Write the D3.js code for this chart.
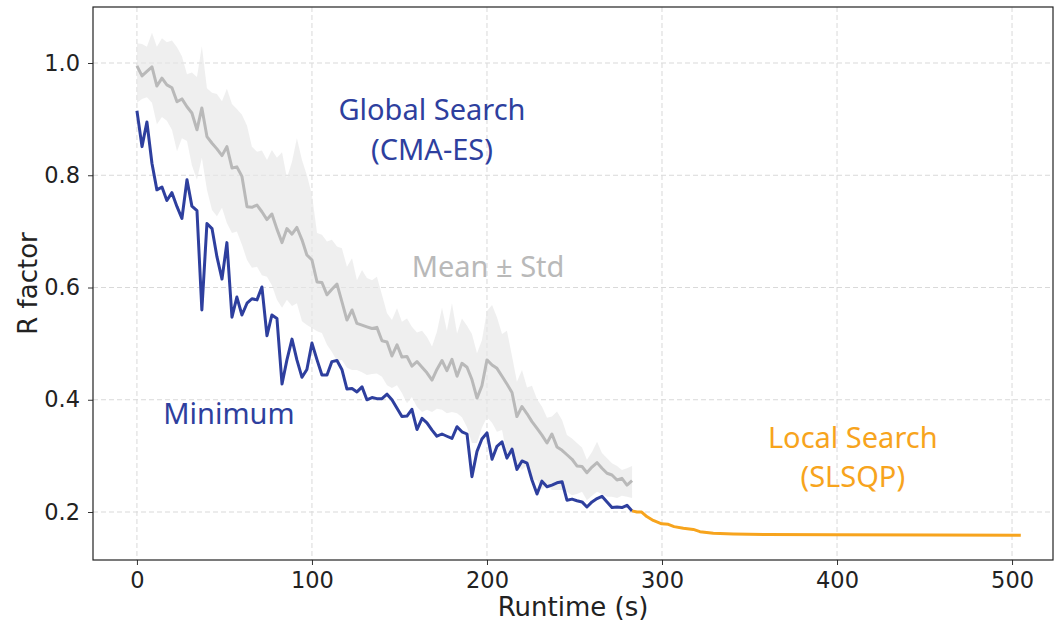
<!DOCTYPE html>
<html>
<head>
<meta charset="utf-8">
<script src="https://cdn.jsdelivr.net/npm/d3@7"></script>
<style>
  body { margin: 0; background: #fff; }
  svg { display: block; }
  .tick text { font-family: "DejaVu Sans", sans-serif; font-size: 22.5px; fill: #222; }
  .grid line { stroke: #d9d9d9; stroke-dasharray: 5,3; stroke-width: 1; }
  .note { font-family: "Noto Sans", sans-serif; font-size: 29px; text-anchor: middle; }
</style>
</head>
<body>
<svg id="chart" width="1054" height="626"></svg>
<script>
// runtime (s) of each CMA-ES generation
const runtime = [0, 2.9, 5.7, 8.6, 11.4, 14.3, 17.1, 20.0, 22.9, 25.7, 28.6, 31.4, 34.3, 37.1, 40.0, 42.9, 45.7, 48.6, 51.4, 54.3,
  57.1, 60.0, 62.9, 65.7, 68.6, 71.4, 74.3, 77.1, 80.0, 82.9, 85.7, 88.6, 91.4, 94.3, 97.1, 100.0, 102.9, 105.7, 108.6, 111.4,
  114.3, 117.1, 120.0, 122.9, 125.7, 128.6, 131.4, 134.3, 137.1, 140.0, 142.9, 145.7, 148.6, 151.4, 154.3, 157.1, 160.0, 162.9, 165.7, 168.6,
  171.4, 174.3, 177.1, 180.0, 182.9, 185.7, 188.6, 191.4, 194.3, 197.1, 200.0, 202.9, 205.7, 208.6, 211.4, 214.3, 217.1, 220.0, 222.9, 225.7,
  228.6, 231.4, 234.3, 237.1, 240.0, 242.9, 245.7, 248.6, 251.4, 254.3, 257.1, 260.0, 262.9, 265.7, 268.6, 271.4, 274.3, 277.1, 280.0, 282.9];

const minimum = [0.915, 0.851, 0.895, 0.821, 0.774, 0.779, 0.755, 0.769, 0.744, 0.723, 0.792, 0.745, 0.737, 0.560, 0.714, 0.705, 0.655, 0.615, 0.680, 0.547,
  0.583, 0.551, 0.572, 0.580, 0.578, 0.601, 0.514, 0.551, 0.545, 0.428, 0.471, 0.508, 0.471, 0.440, 0.454, 0.501, 0.471, 0.444, 0.444, 0.468,
  0.470, 0.454, 0.419, 0.420, 0.414, 0.423, 0.400, 0.404, 0.402, 0.402, 0.410, 0.400, 0.385, 0.370, 0.371, 0.383, 0.347, 0.367, 0.359, 0.346,
  0.335, 0.339, 0.335, 0.331, 0.352, 0.343, 0.339, 0.263, 0.308, 0.330, 0.341, 0.294, 0.317, 0.325, 0.296, 0.312, 0.276, 0.291, 0.287, 0.257,
  0.232, 0.255, 0.245, 0.248, 0.252, 0.254, 0.221, 0.223, 0.220, 0.218, 0.209, 0.218, 0.224, 0.228, 0.218, 0.208, 0.209, 0.208, 0.212, 0.202];

const mean = [0.995, 0.977, 0.985, 0.993, 0.959, 0.973, 0.961, 0.956, 0.931, 0.936, 0.922, 0.911, 0.881, 0.920, 0.869, 0.857, 0.847, 0.835, 0.851, 0.813,
  0.815, 0.798, 0.744, 0.743, 0.747, 0.735, 0.721, 0.731, 0.704, 0.680, 0.705, 0.695, 0.707, 0.685, 0.658, 0.649, 0.610, 0.609, 0.587, 0.597,
  0.606, 0.575, 0.542, 0.560, 0.536, 0.533, 0.530, 0.527, 0.529, 0.505, 0.503, 0.478, 0.498, 0.476, 0.477, 0.460, 0.468, 0.458, 0.448, 0.435,
  0.454, 0.470, 0.452, 0.472, 0.442, 0.465, 0.458, 0.436, 0.403, 0.425, 0.471, 0.462, 0.456, 0.442, 0.428, 0.413, 0.370, 0.388, 0.375, 0.361,
  0.349, 0.337, 0.323, 0.339, 0.316, 0.310, 0.302, 0.294, 0.282, 0.281, 0.270, 0.280, 0.288, 0.278, 0.269, 0.266, 0.257, 0.260, 0.248, 0.256];

const upper = [1.035, 1.034, 1.029, 1.054, 1.029, 1.044, 1.037, 1.040, 1.028, 1.012, 0.980, 0.983, 0.975, 1.030, 0.955, 0.947, 0.945, 0.932, 0.954, 0.927,
  0.918, 0.908, 0.888, 0.851, 0.842, 0.844, 0.827, 0.845, 0.831, 0.841, 0.795, 0.824, 0.866, 0.827, 0.800, 0.765, 0.697, 0.694, 0.682, 0.685,
  0.673, 0.670, 0.637, 0.652, 0.613, 0.631, 0.617, 0.613, 0.619, 0.587, 0.554, 0.542, 0.563, 0.539, 0.545, 0.530, 0.520, 0.523, 0.512, 0.495,
  0.521, 0.564, 0.523, 0.572, 0.518, 0.545, 0.532, 0.517, 0.483, 0.506, 0.558, 0.569, 0.547, 0.517, 0.523, 0.478, 0.432, 0.453, 0.422, 0.425,
  0.401, 0.388, 0.368, 0.370, 0.379, 0.364, 0.337, 0.331, 0.323, 0.315, 0.293, 0.307, 0.325, 0.305, 0.296, 0.287, 0.282, 0.275, 0.278, 0.282];

const lower = [0.929, 0.936, 0.939, 0.929, 0.891, 0.904, 0.897, 0.881, 0.843, 0.866, 0.861, 0.818, 0.792, 0.831, 0.774, 0.738, 0.727, 0.742, 0.715, 0.697,
  0.700, 0.676, 0.649, 0.635, 0.637, 0.622, 0.619, 0.604, 0.578, 0.564, 0.578, 0.567, 0.572, 0.540, 0.533, 0.528, 0.522, 0.519, 0.498, 0.485,
  0.469, 0.471, 0.457, 0.453, 0.453, 0.449, 0.444, 0.446, 0.447, 0.441, 0.426, 0.421, 0.426, 0.412, 0.394, 0.405, 0.387, 0.378, 0.382, 0.378,
  0.384, 0.382, 0.376, 0.378, 0.376, 0.369, 0.351, 0.323, 0.323, 0.350, 0.369, 0.359, 0.343, 0.346, 0.302, 0.316, 0.284, 0.275, 0.284, 0.257,
  0.257, 0.239, 0.250, 0.239, 0.239, 0.239, 0.236, 0.230, 0.232, 0.236, 0.221, 0.229, 0.236, 0.232, 0.227, 0.227, 0.225, 0.229, 0.227, 0.225];

// local refinement after the global stage
const localRuntime = [282.9, 285.7, 288.4, 291.3, 295.0, 299.8, 303.6, 306.9, 312.2, 317.9, 321.7, 329.3, 340.7, 359.8, 397.9, 455.0, 505.0];
const localR = [0.202, 0.200, 0.200, 0.192, 0.185, 0.179, 0.178, 0.174, 0.171, 0.169, 0.165, 0.162, 0.161, 0.160, 0.1597, 0.159, 0.1585];

const xTicks = [0, 100, 200, 300, 400, 500];
const yTicks = [0.2, 0.4, 0.6, 0.8, 1.0];

const margin = { top: 7, right: 1, bottom: 66, left: 93 };
const width = 1054 - margin.left - margin.right;
const height = 626 - margin.top - margin.bottom;

const blue = "#2e3f9e";
const orange = "#f7a41d";
const grey = "#b9b9b9";

const svg = d3.select("#chart");
const g = svg.append("g").attr("transform", `translate(${margin.left},${margin.top})`);

const x = d3.scaleLinear().domain([-25.1, 523.4]).range([0, width]);
const y = d3.scaleLinear().domain([0.1145, 1.0998]).range([height, 0]);

// grid
g.append("g").attr("class", "grid")
  .selectAll("line").data(xTicks).enter().append("line")
  .attr("x1", d => x(d)).attr("x2", d => x(d)).attr("y1", 0).attr("y2", height);
g.append("g").attr("class", "grid")
  .selectAll("line").data(yTicks).enter().append("line")
  .attr("y1", d => y(d)).attr("y2", d => y(d)).attr("x1", 0).attr("x2", width);

const idx = d3.range(runtime.length);

// std band
g.append("path")
  .datum(idx)
  .attr("fill", "#e6e6e6")
  .attr("fill-opacity", 0.65)
  .attr("d", d3.area().x(i => x(runtime[i])).y0(i => y(lower[i])).y1(i => y(upper[i])));

g.append("path")
  .datum(idx)
  .attr("fill", "none")
  .attr("stroke", grey)
  .attr("stroke-width", 3)
  .attr("stroke-linejoin", "round")
  .attr("d", d3.line().x(i => x(runtime[i])).y(i => y(mean[i])));

g.append("path")
  .datum(idx)
  .attr("fill", "none")
  .attr("stroke", blue)
  .attr("stroke-width", 3)
  .attr("stroke-linejoin", "round")
  .attr("d", d3.line().x(i => x(runtime[i])).y(i => y(minimum[i])));

g.append("path")
  .datum(d3.range(localRuntime.length))
  .attr("fill", "none")
  .attr("stroke", orange)
  .attr("stroke-width", 3)
  .attr("stroke-linejoin", "round")
  .attr("d", d3.line().x(i => x(localRuntime[i])).y(i => y(localR[i])));

// axes
const xAxis = g.append("g").attr("transform", `translate(0,${height})`)
  .call(d3.axisBottom(x).tickValues(xTicks).tickSize(5).tickPadding(7).tickFormat(d3.format("d")));
const yAxis = g.append("g")
  .call(d3.axisLeft(y).tickValues(yTicks).tickSize(5).tickPadding(8).tickFormat(d3.format(".1f")));
[xAxis, yAxis].forEach(a => {
  a.select(".domain").remove();
  a.selectAll(".tick line").attr("stroke", "#333");
});

g.append("rect")
  .attr("width", width).attr("height", height)
  .attr("fill", "none").attr("stroke", "#222").attr("stroke-width", 1.2);

svg.append("text")
  .attr("x", margin.left + width / 2).attr("y", 616)
  .attr("text-anchor", "middle")
  .style("font-family", "DejaVu Sans, sans-serif").style("font-size", "26px").style("fill", "#222")
  .text("Runtime (s)");
svg.append("text")
  .attr("transform", `translate(37,${margin.top + height / 2}) rotate(-90)`)
  .attr("text-anchor", "middle")
  .style("font-family", "DejaVu Sans, sans-serif").style("font-size", "26px").style("fill", "#222")
  .text("R factor");

// annotations
const notes = [
  { t: "Global Search", x: 168.6, y: 0.898, c: blue },
  { t: "(CMA-ES)", x: 168.6, y: 0.827, c: blue },
  { t: "Mean \u00b1 Std", x: 200.6, y: 0.619, c: grey },
  { t: "Minimum", x: 52.6, y: 0.357, c: blue },
  { t: "Local Search", x: 409, y: 0.314, c: orange },
  { t: "(SLSQP)", x: 409, y: 0.245, c: orange }
];
g.selectAll(".note").data(notes).enter().append("text")
  .attr("class", "note")
  .attr("x", d => x(d.x)).attr("y", d => y(d.y))
  .style("fill", d => d.c)
  .text(d => d.t);
</script>
</body>
</html>
